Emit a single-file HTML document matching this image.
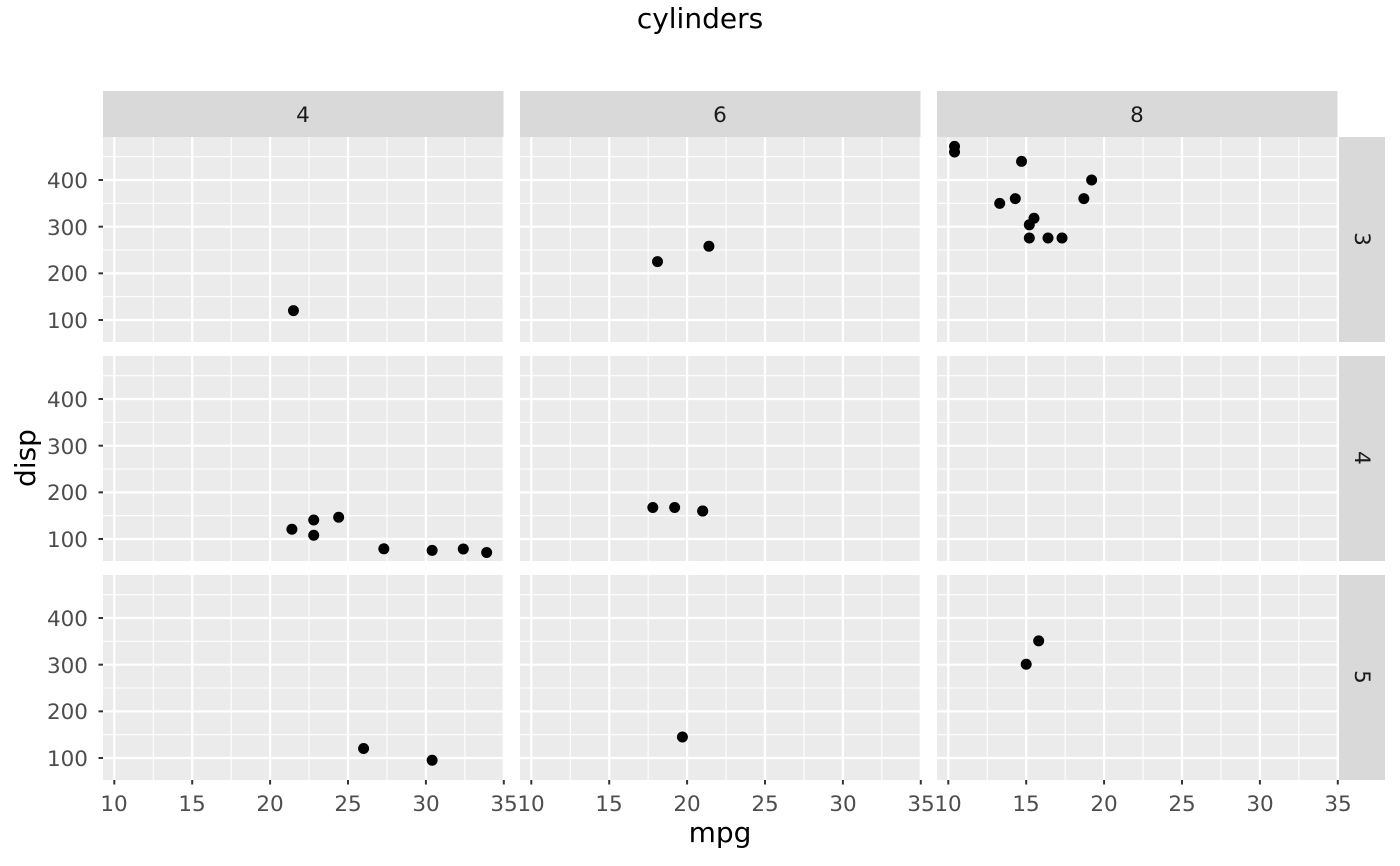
<!DOCTYPE html>
<html><head><meta charset="utf-8"><style>
html,body{margin:0;padding:0;background:#fff}
svg{display:block}
text{font-family:"DejaVu Sans","Liberation Sans",sans-serif}
.yl{font-size:21.5px;fill:#4d4d4d;text-anchor:end}
.xl{font-size:21.5px;fill:#4d4d4d;text-anchor:middle}
.st{font-size:21.5px;fill:#1a1a1a;text-anchor:middle}
.tt{font-size:28px;fill:#000;text-anchor:middle}
</style></head><body>
<svg id="s" width="1400" height="866" xmlns="http://www.w3.org/2000/svg">
<g id="g"></g>
<text x="700" y="28" class="tt">cylinders</text>
<text x="720" y="842" class="tt">mpg</text>
<text transform="translate(35,458) rotate(-90)" class="tt">disp</text>
<text x="303" y="122" class="st">4</text>
<text x="720" y="122" class="st">6</text>
<text x="1137" y="122" class="st">8</text>
<text transform="translate(1355,239) rotate(90)" class="st">3</text>
<text transform="translate(1355,458) rotate(90)" class="st">4</text>
<text transform="translate(1355,677) rotate(90)" class="st">5</text>
<g>
<text x="88" y="188" class="yl">400</text><text x="88" y="235" class="yl">300</text><text x="88" y="281" class="yl">200</text><text x="88" y="328" class="yl">100</text>
<text x="88" y="407" class="yl">400</text><text x="88" y="454" class="yl">300</text><text x="88" y="500" class="yl">200</text><text x="88" y="547" class="yl">100</text>
<text x="88" y="626" class="yl">400</text><text x="88" y="673" class="yl">300</text><text x="88" y="719" class="yl">200</text><text x="88" y="766" class="yl">100</text>
</g>
<g>
<text x="114" y="811" class="xl">10</text><text x="192" y="811" class="xl">15</text><text x="270" y="811" class="xl">20</text><text x="348" y="811" class="xl">25</text><text x="426" y="811" class="xl">30</text><text x="504" y="811" class="xl">35</text>
<text x="531" y="811" class="xl">10</text><text x="609" y="811" class="xl">15</text><text x="687" y="811" class="xl">20</text><text x="765" y="811" class="xl">25</text><text x="843" y="811" class="xl">30</text><text x="921" y="811" class="xl">35</text>
<text x="948" y="811" class="xl">10</text><text x="1026" y="811" class="xl">15</text><text x="1104" y="811" class="xl">20</text><text x="1182" y="811" class="xl">25</text><text x="1260" y="811" class="xl">30</text><text x="1338" y="811" class="xl">35</text>
</g>
</svg>
<script>
var NS="http://www.w3.org/2000/svg",g=document.getElementById("g");
function el(t,a){var e=document.createElementNS(NS,t);for(var k in a)e.setAttribute(k,a[k]);g.appendChild(e);return e;}
var cx=[103,520,937],ry=[137,356,575],W=400.5,H=205,S=15.58,SY=0.4667;
function X(c,v){return cx[c]+11.3+(v-10)*S}
function Y(r,v){return ry[r]+43+(400-v)*SY}
for(var c=0;c<3;c++)el("rect",{x:cx[c],y:91,width:W,height:46,fill:"#d9d9d9"});
for(var r=0;r<3;r++)el("rect",{x:1339,y:ry[r],width:46,height:H,fill:"#d9d9d9"});
for(var c=0;c<3;c++)for(var r=0;r<3;r++){
 el("rect",{x:cx[c],y:ry[r],width:W,height:H,fill:"#ebebeb"});
 for(var v=12.5;v<35;v+=5)el("line",{x1:X(c,v),x2:X(c,v),y1:ry[r],y2:ry[r]+H,stroke:"#fff","stroke-width":1.1});
 for(var v=50;v<=450;v+=100)el("line",{x1:cx[c],x2:cx[c]+W,y1:Y(r,v),y2:Y(r,v),stroke:"#fff","stroke-width":1.1});
 for(var v=10;v<=35;v+=5)el("line",{x1:X(c,v),x2:X(c,v),y1:ry[r],y2:ry[r]+H,stroke:"#fff","stroke-width":2.2});
 for(var v=100;v<=400;v+=100)el("line",{x1:cx[c],x2:cx[c]+W,y1:Y(r,v),y2:Y(r,v),stroke:"#fff","stroke-width":2.2});
}
for(var r=0;r<3;r++)for(var v=100;v<=400;v+=100)el("line",{x1:98.5,x2:103,y1:Y(r,v),y2:Y(r,v),stroke:"#333","stroke-width":2});
for(var c=0;c<3;c++)for(var v=10;v<=35;v+=5)el("line",{x1:X(c,v),x2:X(c,v),y1:780,y2:784.5,stroke:"#333","stroke-width":2});
var d=[[21,6,160,4],[21,6,160,4],[22.8,4,108,4],[21.4,6,258,3],[18.7,8,360,3],[18.1,6,225,3],[14.3,8,360,3],[24.4,4,146.7,4],[22.8,4,140.8,4],[19.2,6,167.6,4],[17.8,6,167.6,4],[16.4,8,275.8,3],[17.3,8,275.8,3],[15.2,8,275.8,3],[10.4,8,472,3],[10.4,8,460,3],[14.7,8,440,3],[32.4,4,78.7,4],[30.4,4,75.7,4],[33.9,4,71.1,4],[21.5,4,120.1,3],[15.5,8,318,3],[15.2,8,304,3],[13.3,8,350,3],[19.2,8,400,3],[27.3,4,79,4],[26,4,120.3,5],[30.4,4,95.1,5],[15.8,8,351,5],[19.7,6,145,5],[15,8,301,5],[21.4,4,121,4]];
d.forEach(function(p){var c={4:0,6:1,8:2}[p[1]],r=p[3]-3;el("circle",{cx:X(c,p[0]),cy:Y(r,p[2]),r:5.5,fill:"#000"});});
</script>
</body></html>
